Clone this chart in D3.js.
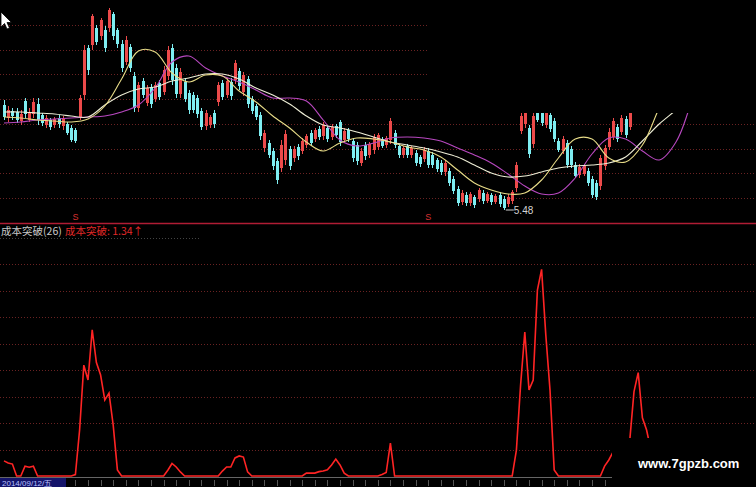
<!DOCTYPE html>
<html><head><meta charset="utf-8">
<script src="https://cdn.jsdelivr.net/npm/d3@7"></script>
<style>html,body{margin:0;padding:0;background:#000;overflow:hidden}</style>
</head><body><svg id="c" width="756" height="487"></svg>
<script>
// ---- candle data (price) ----
const open = [7.58,7.32,7.46,7.44,7.26,7.66,7.28,7.40,7.60,7.38,
7.18,7.28,7.18,7.32,7.16,7.20,7.12,7.08,7.34,7.78,
8.72,8.78,9.12,8.96,9.08,9.12,9.40,9.08,8.80,8.44,
8.74,8.16,7.52,8.06,7.62,7.94,7.70,8.02,7.84,8.16,
8.72,8.32,7.80,8.04,7.82,7.78,7.72,7.46,7.16,7.18,
7.42,7.64,8.02,7.78,8.04,8.08,8.26,7.84,8.10,7.70,
7.56,7.38,6.72,6.82,6.66,6.46,6.32,6.48,6.70,6.52,
6.74,6.66,6.78,7.02,6.90,7.10,6.96,7.12,6.94,7.16,
7.24,6.88,7.08,6.86,6.78,6.42,6.78,6.58,6.68,6.74,
6.90,6.78,6.88,7.02,6.76,6.58,6.76,6.58,6.62,6.54,
6.50,6.66,6.58,6.48,6.42,6.24,6.26,6.10,5.90,5.64,
5.78,5.62,5.74,5.70,5.82,5.66,5.78,5.64,5.78,5.70,
5.60,5.66,5.92,7.06,7.20,7.12,6.80,7.46,7.42,7.18,
7.38,7.26,6.86,6.66,6.82,6.70,6.38,6.18,6.20,6.26,
6.10,6.02,5.96,6.36,6.74,6.94,7.14,7.04,7.30,7.14];
const close = [7.34,7.48,7.36,7.28,7.40,7.40,7.44,7.64,7.28,7.22,
7.32,7.14,7.30,7.20,7.30,7.02,6.88,6.86,7.72,8.68,
8.28,9.36,8.84,9.28,8.72,9.48,8.96,8.80,8.32,8.88,
8.32,7.52,7.98,7.78,7.92,7.60,7.98,7.74,8.28,8.68,
8.08,7.80,8.24,7.70,7.48,7.48,7.40,7.14,7.42,7.34,
7.20,7.98,7.74,8.06,7.76,8.42,7.96,8.18,7.60,7.46,
7.34,6.96,7.02,6.58,6.36,6.08,6.78,7.00,6.36,6.70,
6.56,6.86,6.96,6.82,7.08,6.94,7.18,6.90,7.14,6.98,
6.84,7.06,6.90,6.52,6.46,6.66,6.56,6.80,6.94,6.98,
6.76,6.92,7.26,6.78,6.58,6.72,6.58,6.72,6.42,6.40,
6.68,6.38,6.38,6.30,6.24,6.42,6.02,5.86,5.62,5.82,
5.62,5.80,5.58,5.88,5.66,5.80,5.64,5.76,5.60,5.52,
5.74,5.84,6.38,7.36,7.42,6.60,7.36,7.28,7.22,7.42,
7.10,6.90,6.68,6.90,6.38,6.38,6.16,6.34,6.36,6.02,
5.78,5.74,6.52,6.72,7.04,7.26,6.90,7.32,6.98,7.42];
const high = [7.68,7.56,7.52,7.52,7.48,7.72,7.52,7.72,7.72,7.42,
7.38,7.32,7.34,7.38,7.36,7.24,7.18,7.12,7.78,8.78,
8.78,9.40,9.18,9.32,9.16,9.52,9.44,9.12,8.88,8.96,
8.80,8.24,8.04,8.12,7.98,8.00,8.04,8.08,8.36,8.76,
8.80,8.40,8.32,8.12,7.88,7.84,7.78,7.52,7.48,7.38,
7.48,8.04,8.08,8.12,8.12,8.48,8.32,8.24,8.16,7.76,
7.60,7.44,7.08,6.88,6.72,6.52,6.88,7.08,6.76,6.76,
6.80,6.92,7.00,7.08,7.12,7.16,7.24,7.16,7.20,7.20,
7.28,7.12,7.12,6.92,6.84,6.72,6.84,6.84,7.00,7.02,
6.94,6.96,7.32,7.08,6.80,6.76,6.80,6.76,6.68,6.58,
6.74,6.72,6.64,6.52,6.48,6.48,6.32,6.16,5.96,5.88,
5.84,5.84,5.78,5.92,5.88,5.84,5.82,5.80,5.84,5.76,
5.80,5.88,6.44,7.42,7.48,7.18,7.44,7.52,7.48,7.48,
7.44,7.32,6.92,6.96,6.88,6.76,6.44,6.40,6.40,6.32,
6.16,6.08,6.58,6.78,7.12,7.32,7.20,7.38,7.36,7.48];
const low = [7.28,7.24,7.28,7.22,7.18,7.32,7.24,7.32,7.18,7.16,
7.12,7.08,7.12,7.12,7.08,6.98,6.84,6.82,7.28,7.68,
8.18,8.68,8.78,8.88,8.64,9.04,8.88,8.72,8.24,8.38,
8.24,7.44,7.44,7.72,7.56,7.52,7.64,7.68,7.78,8.08,
7.98,7.72,7.72,7.64,7.40,7.42,7.32,7.08,7.08,7.12,
7.12,7.56,7.68,7.72,7.68,8.00,7.88,7.76,7.52,7.40,
7.28,6.88,6.64,6.52,6.28,6.00,6.24,6.38,6.28,6.44,
6.48,6.60,6.72,6.76,6.84,6.88,6.88,6.84,6.88,6.92,
6.76,6.82,6.84,6.44,6.38,6.36,6.48,6.52,6.60,6.68,
6.72,6.72,6.80,6.72,6.52,6.52,6.52,6.52,6.36,6.34,
6.44,6.32,6.32,6.24,6.18,6.16,5.96,5.80,5.56,5.58,
5.56,5.56,5.52,5.64,5.60,5.62,5.58,5.60,5.54,5.48,
5.54,5.60,5.84,7.00,7.12,6.52,6.72,7.24,7.16,7.12,
7.04,6.84,6.64,6.60,6.32,6.32,6.12,6.12,6.16,5.96,
5.72,5.68,5.88,6.28,6.68,6.88,6.84,6.98,6.92,7.08];

const maIdx = [0,4,8,12,16,20,24,28,32,36,40,44,48,52,56,60,64,68,72,76,80,84,88,92,96,100,104,108,112,116,120,124,128,132,136,140,144,148,152,156,160,164];
const maFast = [7.34,7.32,7.28,7.26,7.24,7.30,7.56,8.10,8.66,8.64,8.22,8.04,8.18,8.16,7.86,7.64,7.36,7.12,6.84,6.66,6.82,6.92,6.90,6.84,6.74,6.68,6.54,6.28,6.02,5.88,5.80,5.82,6.08,6.52,6.90,6.90,6.52,6.44,6.78,7.52,8.18];
const maMid = [7.44,7.44,7.42,7.40,7.36,7.34,7.58,7.78,7.90,7.94,8.06,8.12,8.20,8.20,8.10,7.92,7.78,7.60,7.36,7.18,7.12,7.04,6.94,6.84,6.78,6.72,6.64,6.54,6.38,6.22,6.14,6.16,6.24,6.32,6.36,6.38,6.42,6.54,6.86,7.20,7.48,7.78];
const maSlow = [7.22,7.24,7.28,7.30,7.32,7.34,7.36,7.44,7.58,7.92,8.44,8.56,8.32,8.16,8.04,7.88,7.72,7.72,7.66,7.28,6.88,6.76,6.82,6.92,6.94,6.92,6.86,6.72,6.58,6.42,6.20,5.96,5.80,5.82,6.12,6.60,6.92,6.90,6.66,6.48,6.84,7.76];

// ---- indicator 成本突破 ----
const cost = [0.52,0.45,0.41,0,0,0.34,0.30,0.34,0,0,
0,0,0,0,0,0,0,0.05,1.58,3.81,
3.30,5.02,3.90,3.47,2.61,2.85,1.75,0.21,0,0,
0,0,0,0,0,0,0,0,0,0.20,
0.43,0.31,0.14,0,0,0,0,0,0,0,
0,0,0.17,0.31,0.31,0.62,0.69,0.65,0.14,0,
0,0,0,0,0,0,0,0,0,0,
0,0,0.10,0.10,0.10,0.15,0.17,0.21,0.38,0.58,
0.38,0.10,0,0,0,0,0,0,0,0,
0.05,0.12,1.13,0,0,0,0,0,0,0,
0,0,0,0,0,0,0,0,0,0,
0,0,0,0,0,0,0,0,0,0,
0,0,0.89,3.13,4.95,2.96,3.30,6.39,7.10,4.85,
2.96,0.21,0,0,0,0,0,0,0,0,
0,0,0,0.34,0.55,0.82,1.03,1.17,1.24,1.24,
2.90,3.55,2.00,1.58,0.90];

const lowLabel = 5.48, lowIdx = 119;
const signalIdx = [17, 101];
const titleText = "成本突破(26)";
const valueText = "成本突破: 1.34↑";
const dateText = "2014/09/12/五";

// ---- layout ----
const W = 756, H = 487;
const topH = 223, botTop = 238, botBase = 476;
const svg = d3.select("#c");
svg.append("rect").attr("width", W).attr("height", H).attr("fill", "#000");

const x = d3.scaleLinear().domain([0, 180]).range([4, 760]);
const y = d3.scaleLinear().domain([5.22, 9.68]).range([topH, 0]);
const yi = d3.scaleLinear().domain([0, 7.5]).range([botBase, 257.75]);

// grids
const gridG = svg.append("g");
d3.range(1, 9).forEach(k => {
  gridG.append("line").attr("x1", 0).attr("x2", W)
    .attr("y1", Math.round(topH * k / 9) + 0.5).attr("y2", Math.round(topH * k / 9) + 0.5)
    .attr("stroke", "#6a2222").attr("stroke-dasharray", "1 2");
  const yy = Math.round(botTop + (botBase - botTop) * k / 9) + 0.5;
  gridG.append("line").attr("x1", 0).attr("x2", W).attr("y1", yy).attr("y2", yy)
    .attr("stroke", "#6a2222").attr("stroke-dasharray", "1 2");
});
gridG.append("line").attr("x1", 0).attr("x2", 200).attr("y1", botTop + 0.5).attr("y2", botTop + 0.5)
  .attr("stroke", "#444").attr("stroke-dasharray", "1 2");

// candles
const up = "#ec4a4a", dn = "#7eeef2";
const cg = svg.append("g");
open.forEach((o, i) => {
  const c = close[i], col = c >= o ? up : dn;
  const cx = Math.round(x(i)) + 0.5;
  cg.append("line").attr("x1", cx).attr("x2", cx).attr("y1", y(high[i])).attr("y2", y(low[i]))
    .attr("stroke", col).attr("stroke-width", 1);
  const t = y(Math.max(o, c)), b = y(Math.min(o, c));
  cg.append("rect").attr("x", cx - 1.5).attr("width", 3).attr("y", t).attr("height", Math.max(1, b - t))
    .attr("fill", col);
});

// moving averages
const maLine = d3.line().x(d => x(d[0])).y(d => y(d[1])).curve(d3.curveCatmullRom.alpha(0.5));
[[maSlow, "#b848c0"], [maMid, "#eeeed6"], [maFast, "#e8dc88"]].forEach(([arr, col]) => {
  svg.append("path").datum(arr.map((v, i) => [maIdx[i], v]))
    .attr("d", maLine).attr("fill", "none").attr("stroke", col).attr("stroke-width", 1.1);
});

// covered top-right region
svg.append("rect").attr("x", 428).attr("y", 0).attr("width", W - 428).attr("height", 113).attr("fill", "#000");

// low label
svg.append("line").attr("x1", x(lowIdx) + 2).attr("x2", x(lowIdx) + 10)
  .attr("y1", y(lowLabel)).attr("y2", y(lowLabel)).attr("stroke", "#d0d0d0");
svg.append("text").attr("x", x(lowIdx) + 10).attr("y", y(lowLabel) + 4)
  .attr("fill", "#d4d4d4").attr("font-family", "Liberation Sans, Arial").attr("font-size", 10)
  .text(lowLabel.toFixed(2));

// separator
svg.append("line").attr("x1", 0).attr("x2", W).attr("y1", topH + 0.5).attr("y2", topH + 0.5)
  .attr("stroke", "#b01c34").attr("stroke-width", 1.6);

// S markers
signalIdx.forEach(i => {
  svg.append("text").attr("x", x(i)).attr("y", 220).attr("text-anchor", "middle")
    .attr("fill", "#d83030").attr("font-family", "Liberation Sans, Arial").attr("font-size", 9)
    .text("S");
});

// titles
svg.append("text").attr("x", 1).attr("y", 235).attr("fill", "#c8c8c8")
  .attr("font-family", "Noto Sans CJK SC").attr("font-size", 10.5).text(titleText);
svg.append("text").attr("x", 65).attr("y", 235).attr("fill", "#e02828")
  .attr("font-family", "Noto Sans CJK SC").attr("font-size", 10.5).text(valueText);

// indicator
svg.append("line").attr("x1", 0).attr("x2", 612).attr("y1", botBase + 1.5).attr("y2", botBase + 1.5)
  .attr("stroke", "#666").attr("stroke-width", 1);
svg.append("path").datum(cost)
  .attr("d", d3.line().x((d, i) => x(i)).y(d => yi(d)))
  .attr("fill", "none").attr("stroke", "#ff2424").attr("stroke-width", 1.6);

// bottom date strip
svg.append("rect").attr("x", 0).attr("y", 478).attr("width", 66).attr("height", 9).attr("fill", "#14146a");
svg.append("text").attr("x", 2).attr("y", 486).attr("fill", "#b8c0ff")
  .attr("font-family", "Liberation Sans, Arial").attr("font-size", 8).text(dateText);
d3.range(17, 146, 3).forEach(i => {
  svg.append("line").attr("x1", Math.round(x(i)) + 0.5).attr("x2", Math.round(x(i)) + 0.5)
    .attr("y1", 480).attr("y2", 486).attr("stroke", "#555");
});

// covered bottom-right region + watermark
svg.append("rect").attr("x", 612).attr("y", 438).attr("width", W - 612).attr("height", H - 438).attr("fill", "#000");
svg.append("text").attr("x", 638).attr("y", 468).attr("fill", "#fff")
  .attr("font-family", "Liberation Sans, Arial").attr("font-weight", "bold").attr("font-size", 13)
  .text("www.7gpzb.com");

// cursor
svg.append("path").attr("d", "M1,12 L1,27 L4.5,23.5 L7,29 L9.5,28 L7,22.5 L11.5,22.5 Z")
  .attr("fill", "#fff").attr("stroke", "#000").attr("stroke-width", 0.8);
</script></body></html>
